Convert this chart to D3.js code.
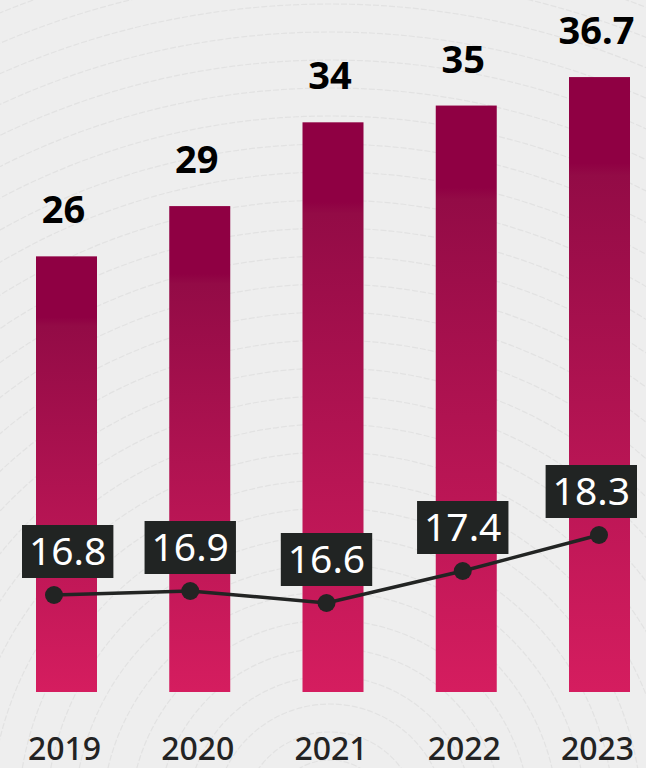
<!DOCTYPE html>
<html>

<head>
    <meta charset="UTF-8" />
    <style>
        body {
            margin: 0;
            background: #eeeeee;
        }
    </style>
</head>

<body>
    <div id="chart"></div>

    <script src="https://d3js.org/d3.v7.min.js"></script>
    <script>
        // donnees
        const years = ["2019", "2020", "2021", "2022", "2023"];
        const totals = [26, 29, 34, 35, 36.7];
        const rates = [16.8, 16.9, 16.6, 17.4, 18.3];

        let width = 646,
            height = 768;

        let svg = d3.select("#chart")
            .append("svg")
            .attr("width", width)
            .attr("height", height);

        // fond avec des lignes ondulées discretes
        let bg = svg.append("g");
        bg.append("rect")
            .attr("width", width)
            .attr("height", height)
            .attr("fill", "#eeeeee");
        bg.selectAll("circle")
            .data(d3.range(60, 900, 28))
            .join("circle")
            .attr("cx", 330)
            .attr("cy", 820)
            .attr("r", d => d)
            .attr("fill", "none")
            .attr("stroke", "#e2e2e2")
            .attr("stroke-width", 1.2)
            .attr("stroke-dasharray", "6 2");

        // degrade des barres
        let grad = svg.append("defs")
            .append("linearGradient")
            .attr("id", "barGrad")
            .attr("x1", 0).attr("y1", 0)
            .attr("x2", 0).attr("y2", 1);
        grad.append("stop").attr("offset", "0").attr("stop-color", "#8f0043");
        grad.append("stop").attr("offset", "0.14").attr("stop-color", "#8f0043");
        grad.append("stop").attr("offset", "0.16").attr("stop-color", "#930b46");
        grad.append("stop").attr("offset", "1").attr("stop-color", "#d51d5f");

        let x = d3.scaleBand()
            .domain(years)
            .range([36, 630])
            .paddingInner(0.5422)
            .paddingOuter(0);

        let y = d3.scaleLinear()
            .domain([0, 41.3])
            .range([692, 0]);

        let xLine = d3.scalePoint()
            .domain(years)
            .range([54, 599]);

        let yLine = d3.scaleLinear()
            .domain([16.6, 18.3])
            .range([603, 535]);

        // barres
        svg.selectAll(".bar")
            .data(years)
            .join("rect")
            .attr("class", "bar")
            .attr("x", d => x(d))
            .attr("y", (d, i) => y(totals[i]))
            .attr("width", x.bandwidth())
            .attr("height", (d, i) => y(0) - y(totals[i]))
            .attr("fill", "url(#barGrad)");

        // valeurs au dessus des barres
        svg.selectAll(".total")
            .data(years)
            .join("text")
            .attr("class", "total")
            .attr("x", d => x(d) + x.bandwidth() / 2 - 3)
            .attr("y", (d, i) => y(totals[i]) - 33)
            .attr("text-anchor", "middle")
            .style("font-family", "'Noto Sans', sans-serif")
            .style("font-weight", "bold")
            .style("font-size", "38px")
            .style("fill", "#000")
            .text((d, i) => totals[i]);

        // annees
        svg.selectAll(".year")
            .data(years)
            .join("text")
            .attr("class", "year")
            .attr("x", d => x(d) + x.bandwidth() / 2 - 2)
            .attr("y", 760)
            .attr("text-anchor", "middle")
            .style("font-family", "'Noto Sans', sans-serif")
            .style("font-weight", "500")
            .style("font-size", "32px")
            .style("fill", "#232323")
            .text(d => d);

        // ligne
        let line = d3.line()
            .x((d, i) => xLine(years[i]))
            .y(d => yLine(d));

        svg.append("path")
            .datum(rates)
            .attr("d", line)
            .attr("fill", "none")
            .attr("stroke", "#222423")
            .attr("stroke-width", 3.5);

        svg.selectAll(".dot")
            .data(rates)
            .join("circle")
            .attr("class", "dot")
            .attr("cx", (d, i) => xLine(years[i]))
            .attr("cy", d => yLine(d))
            .attr("r", 9)
            .attr("fill", "#222423");

        // etiquettes de la ligne
        let labels = svg.selectAll(".rate")
            .data(rates)
            .join("g")
            .attr("class", "rate");

        labels.each(function (d, i) {
            let g = d3.select(this);
            let t = g.append("text")
                .attr("text-anchor", "middle")
                .style("font-family", "'Noto Sans', sans-serif")
                .style("font-size", "39px")
                .style("fill", "#fff")
                .text(d);
            let w = t.node().getComputedTextLength() + 14;
            let h = 53;
            // on garde la boite dans le cadre
            let cx = Math.max(22 + w / 2, Math.min(637 - w / 2, xLine(years[i])));
            let bottom = yLine(d) - 17;
            g.insert("rect", "text")
                .attr("x", cx - w / 2)
                .attr("y", bottom - h)
                .attr("width", w)
                .attr("height", h)
                .attr("fill", "#212423");
            t.attr("x", cx)
                .attr("y", bottom - 13);
        });
    </script>
</body>

</html>
